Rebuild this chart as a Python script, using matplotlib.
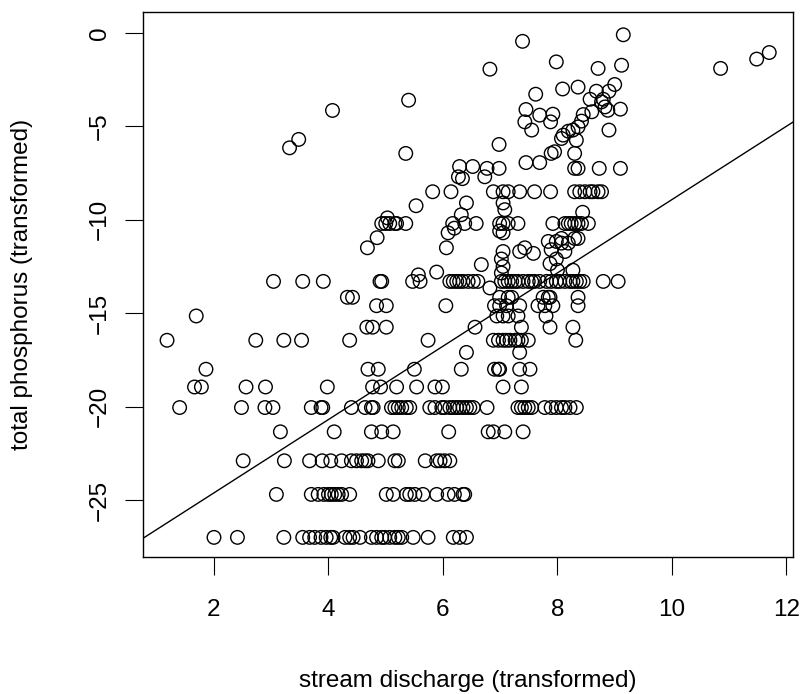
import numpy as np
import matplotlib
matplotlib.use('Agg')
import matplotlib.pyplot as plt

plt.rcParams['font.family'] = ['Liberation Sans', 'DejaVu Sans']

# phosphorus levels that show up as horizontal rows of points
row_levels = [-27.0, -24.7, -22.9, -21.35, -20.05, -18.95, -18.0, -17.1,
              -16.45, -15.75, -15.15, -14.6, -14.15, -13.3, -10.2, -8.5, -7.25]

row_m27 = [2.0, 2.41, 3.22, 3.55, 3.67, 3.76, 3.87, 3.96, 4.04, 4.08, 4.29, 4.37,
           4.43, 4.55, 4.75, 4.84, 4.93, 4.98, 5.07, 5.16, 5.22, 5.28, 5.48, 5.74,
           6.18, 6.29, 6.41]
row_m247 = [3.09, 3.70, 3.82, 3.92, 4.0, 4.05, 4.11, 4.17, 4.23, 4.37, 5.01, 5.13,
            5.36, 5.42, 5.51, 5.65, 5.89, 6.09, 6.2, 6.35, 6.38]
row_m229 = [2.51, 3.23, 3.67, 3.89, 4.04, 4.23, 4.40, 4.49, 4.58, 4.64, 4.69, 4.87,
            5.16, 5.22, 5.69, 5.89, 5.95, 6.03, 6.12]
row_m2135 = [3.16, 4.1, 4.75, 4.93, 5.13, 6.1, 6.79, 6.88, 7.08, 7.4]
row_m2005 = [1.40, 2.48, 2.89, 3.03, 3.70, 3.87, 3.90, 4.40, 4.64, 4.75, 4.78, 5.10,
             5.16, 5.22, 5.28, 5.36, 5.42, 5.77, 5.86, 5.98, 6.03, 6.12, 6.18, 6.24,
             6.29, 6.35, 6.41, 6.47, 6.53, 6.77, 7.31, 7.37, 7.43, 7.49, 7.55, 7.78,
             7.89, 7.98, 8.07, 8.13, 8.22, 8.33]
row_m1895 = [1.66, 1.78, 2.56, 2.90, 3.98, 4.77, 4.91, 5.19, 5.54, 5.86, 5.99,
             7.05, 7.37]
row_m18 = [1.86, 4.69, 4.87, 5.50, 6.32, 6.9, 6.97, 6.99, 7.34, 7.52]
row_m171 = [6.41, 7.34]
row_m1645 = [1.18, 2.73, 3.22, 3.53, 4.37, 5.74, 6.88, 6.97, 7.05, 7.11, 7.17, 7.26,
             7.31, 7.37, 7.49, 8.32]
row_m1575 = [4.67, 4.77, 5.01, 6.56, 7.37, 7.87, 8.27]
row_m1515 = [1.69, 6.94, 7.05, 7.14, 7.31, 7.8]
row_m146 = [4.84, 5.01, 6.05, 6.9, 6.99, 7.11, 7.34, 7.66, 7.78, 7.92, 8.36]
row_m1415 = [4.33, 4.42, 6.99, 7.14, 7.2, 7.75, 7.84, 7.87, 8.36]
row_m133 = [3.04, 3.55, 3.91, 4.9, 4.93, 5.47, 5.6, 6.12, 6.18, 6.24, 6.29, 6.35,
            6.44, 6.53, 6.61, 7.02, 7.08, 7.14, 7.2, 7.26, 7.31, 7.4, 7.49, 7.55,
            7.6, 7.69, 7.81, 7.89, 7.98, 8.04, 8.13, 8.22, 8.27, 8.33, 8.39, 8.45,
            8.8, 9.06]
row_m102 = [4.93, 5.0, 5.07, 5.16, 5.19, 5.35, 6.17, 6.38, 6.58, 6.99, 7.05, 7.14,
            7.31, 7.92, 8.13, 8.19, 8.24, 8.3, 8.36, 8.42, 8.54]
row_m85 = [5.82, 6.14, 6.88, 7.05, 7.14, 7.34, 7.6, 7.88, 8.3, 8.39, 8.48, 8.57,
           8.62, 8.71, 8.77]
row_m725 = [6.77, 6.98, 8.3, 8.36, 8.73, 9.1]

rows = [row_m27, row_m247, row_m229, row_m2135, row_m2005, row_m1895, row_m18,
        row_m171, row_m1645, row_m1575, row_m1515, row_m146, row_m1415, row_m133,
        row_m102, row_m85, row_m725]

# the remaining scattered points
other_x = [4.07, 3.48, 3.32, 5.40, 5.35, 6.27, 6.34, 6.73, 5.53, 5.03, 4.85, 4.68,
           6.06, 6.09, 6.2, 5.57, 5.89, 7.39, 6.82, 7.98, 7.62, 7.45, 7.69, 7.92,
           7.43, 7.55, 7.88, 6.98, 7.89, 7.95, 7.45, 7.69, 6.29, 6.52, 6.41, 7.05,
           7.08, 6.32, 6.99, 7.05, 7.84, 7.98, 7.05, 7.34, 7.58, 7.43, 7.02, 7.05,
           7.02, 6.67, 7.87, 8.0, 6.82, 9.15, 8.71, 9.12, 8.09, 8.36, 9.0, 8.9,
           8.68, 8.8, 8.77, 8.57, 8.83, 8.88, 9.1, 8.6, 8.45, 8.42, 8.36, 8.27,
           8.19, 8.1, 8.07, 8.33, 8.3, 8.9, 8.44, 8.07, 8.07, 8.19, 8.3, 8.36,
           8.13, 7.98, 7.89, 8.27, 10.85, 11.48, 11.7]
other_y = [-4.15, -5.7, -6.15, -3.6, -6.45, -7.7, -7.8, -7.7, -9.25, -9.9, -10.96, -11.5,
           -11.5, -10.7, -10.45, -12.95, -12.8, -0.45, -1.94, -1.55, -3.28, -4.1, -4.4, -4.35,
           -4.76, -5.2, -4.76, -5.97, -6.45, -6.36, -6.94, -6.94, -7.15, -7.15, -9.1, -9.1,
           -9.46, -9.73, -10.6, -10.7, -11.16, -11.16, -11.7, -11.7, -11.8, -11.5, -12.1, -12.5,
           -12.85, -12.4, -12.35, -12.7, -13.65, -0.1, -1.9, -1.73, -3.0, -2.9, -2.76, -3.12,
           -3.12, -3.55, -3.69, -3.55, -3.96, -4.14, -4.08, -4.22, -4.37, -4.72, -5.03, -5.2,
           -5.26, -5.47, -5.65, -5.74, -6.45, -5.2, -9.6, -11.0, -11.25, -11.25, -11.0, -11.0,
           -11.7, -12.1, -11.6, -12.7, -1.9, -1.4, -1.05]

# fitted line (abline)
intercept = -28.54
slope = 1.962

discharge = np.concatenate([np.array(r) for r in rows] + [np.array(other_x)])
phosphorus = np.concatenate([np.full(len(r), lv) for r, lv in zip(rows, row_levels)]
                            + [np.array(other_y)])

fig = plt.figure(figsize=(8.05, 6.94), dpi=100)
ax = fig.add_axes([143 / 805, 1 - 557 / 694, (793.3 - 143) / 805, (557 - 12) / 694])

ax.scatter(discharge, phosphorus, s=95, facecolors='none', edgecolors='black',
           linewidths=1.0)
ax.axline((0, intercept), slope=slope, color='black', linewidth=1.0)

ax.set_xlim(0.76, 12.12)
ax.set_ylim(-28.05, 1.12)
ax.set_xticks([2, 4, 6, 8, 10, 12])
ax.set_yticks([0, -5, -10, -15, -20, -25])
ax.tick_params(direction='out', length=13, width=0.8, labelsize=17.5)
ax.tick_params(axis='x', pad=17)
ax.tick_params(axis='y', pad=10)
plt.setp(ax.get_yticklabels(), rotation=90, va='center')
for sp in ax.spines.values():
    sp.set_linewidth(1.0)

fig.text(468 / 805, 1 - 681 / 694, 'stream discharge (transformed)', fontsize=17.5,
         ha='center', va='center')
fig.text(22 / 805, 1 - 284.5 / 694, 'total phosphorus (transformed)', fontsize=17.5,
         ha='center', va='center', rotation=90)

fig.savefig('out.png', dpi=100)
